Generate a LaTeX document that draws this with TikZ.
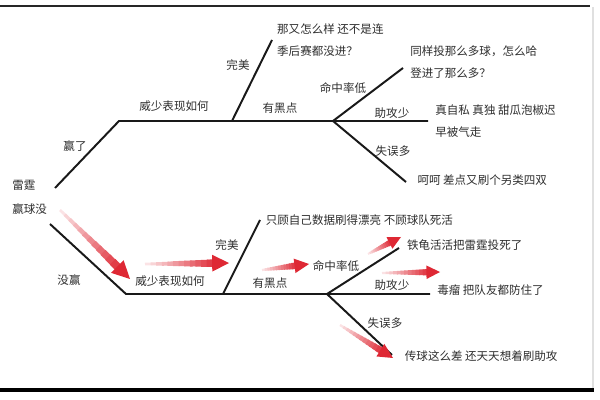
\documentclass[tikz,border=0pt]{standalone}
\usepackage{fontspec}
\setmainfont{Noto Sans CJK SC}
\usetikzlibrary{positioning,calc}
\definecolor{arrowred}{RGB}{222,40,52}
\definecolor{inkgray}{RGB}{45,45,45}

\newcommand{\fadearrow}[3]{%
  \pgfmathsetlengthmacro\hl{2.3*#3pt}%
  \pgfmathsetlengthmacro\hw{1.15*#3pt}%
  \coordinate (hb) at ($(#2)!\hl!(#1)$);
  \foreach \i in {1,...,12}{
    \pgfmathsetmacro\ta{(\i-1)/12}
    \pgfmathsetmacro\tb{\i/12+0.03}
    \pgfmathsetmacro\w{(0.3+0.06*\i)*#3}
    \pgfmathtruncatemacro\c{6+7*\i}
    \draw[line width=\w pt, arrowred!\c!white] ($(#1)!\ta!(hb)$) -- ($(#1)!\tb!(hb)$);
  }
  \fill[arrowred] (#2) -- ($(hb)!\hw!90:(#2)$) -- ($(hb)!\hw!-90:(#2)$) -- cycle;
}

\begin{document}
\begin{tikzpicture}[x=0.025cm, y=-0.025cm,
  branch line/.style = {draw=black!90, line width=1.4pt},
  branch label/.style = {
    text=inkgray, inner sep=0pt,
    font=\fontsize{8.2}{10}\selectfont,
  },
  leaf text/.style = {
    text=inkgray, inner sep=0pt, align=left,
    font=\fontsize{8.2}{15.6}\selectfont,
}]
  \useasboundingbox (0,0) rectangle (600,400);
  \draw[line width=1.6pt, black!85] (0,6) -- (590,6);
  \draw[line width=3pt, black] (0,390) -- (594,390);
  \draw[line width=1pt, black!12] (593,7) -- (593,388);

  \node[leaf text, anchor=west, name=root, font=\fontsize{8.2}{17}\selectfont]
    at (12,197) {雷霆\\赢球没};

  \coordinate (u0) at (55,188);
  \coordinate (u1) at (119,121);
  \coordinate (u2) at (232,121);
  \coordinate (u3) at (333,121);
  \coordinate (uA) at (272,40);
  \coordinate (uB) at (403,68);
  \coordinate (uC) at (428,121);
  \coordinate (uD) at (406,182);
  \draw[branch line] (u0) -- (u1) -- (uC);
  \draw[branch line] (u2) -- (uA);
  \draw[branch line] (uB) -- (u3) -- (uD);

  \coordinate (l0) at (50,224);
  \coordinate (l1) at (126,294);
  \coordinate (l2) at (223,294);
  \coordinate (l3) at (327,294);
  \coordinate (lA) at (260,220);
  \coordinate (lB) at (399,248);
  \coordinate (lC) at (430,294);
  \coordinate (lD) at (392,355);
  \draw[branch line] (l0) -- (l1) -- (lC);
  \draw[branch line] (l2) -- (lA);
  \draw[branch line] (lB) -- (l3) -- (lD);

  \foreach \x/\y/\txt/\nm in
    {75/146/赢了/won, 174/106/威少表现如何/howA, 238/65/完美/perfA,
     280/108/有黑点/flawA, 343/88/命中率低/pctA, 392/113/助攻少/astA,
     393/151/失误多/tovA,
     69/280/没赢/lost, 170/281/威少表现如何/howB, 227/245/完美/perfB,
     270/283/有黑点/flawB, 336/266/命中率低/pctB, 392/285/助攻少/astB,
     385/323/失误多/tovB}
      \node[branch label, name=\nm] at (\x,\y) {\txt};

  \node[leaf text, right=3.5pt of uA] (uAt) {那又怎么样 还不是连\\季后赛都没进？};
  \node[leaf text, right=5pt of uB, yshift=4pt] (uBt) {同样投那么多球，怎么哈\\登进了那么多？};
  \node[leaf text, right=5pt of uC] (uCt) {真自私 真独 甜瓜泡椒迟\\早被气走};
  \node[leaf text, right=8pt of uD, yshift=1.5pt] (uDt) {呵呵 差点又刷个另类四双};

  \node[leaf text, right=4pt of lA] (lAt) {只顾自己数据刷得漂亮 不顾球队死活};
  \node[leaf text, right=5.5pt of lB, yshift=2pt] (lBt) {铁龟活活把雷霆投死了};
  \node[leaf text, right=5pt of lC, yshift=2.5pt] (lCt) {毒瘤 把队友都防住了};
  \node[leaf text, right=9pt of lD, yshift=-1pt] (lDt) {传球这么差 还天天想着刷助攻};

  \coordinate (r1s) at (60,210);  \coordinate (r1e) at (130,279);
  \coordinate (r2s) at (145,264); \coordinate (r2e) at (229,263);
  \coordinate (r3s) at (262,270); \coordinate (r3e) at (309,264);
  \coordinate (r4s) at (368,254); \coordinate (r4e) at (401,237);
  \coordinate (r5s) at (382,273); \coordinate (r5e) at (440,272);
  \coordinate (r6s) at (340,325); \coordinate (r6e) at (393,358);
  \fadearrow{r1s}{r1e}{5.5}
  \fadearrow{r2s}{r2e}{5.2}
  \fadearrow{r3s}{r3e}{4.5}
  \fadearrow{r4s}{r4e}{4}
  \fadearrow{r5s}{r5e}{4.2}
  \fadearrow{r6s}{r6e}{4.6}
\end{tikzpicture}
\end{document}
